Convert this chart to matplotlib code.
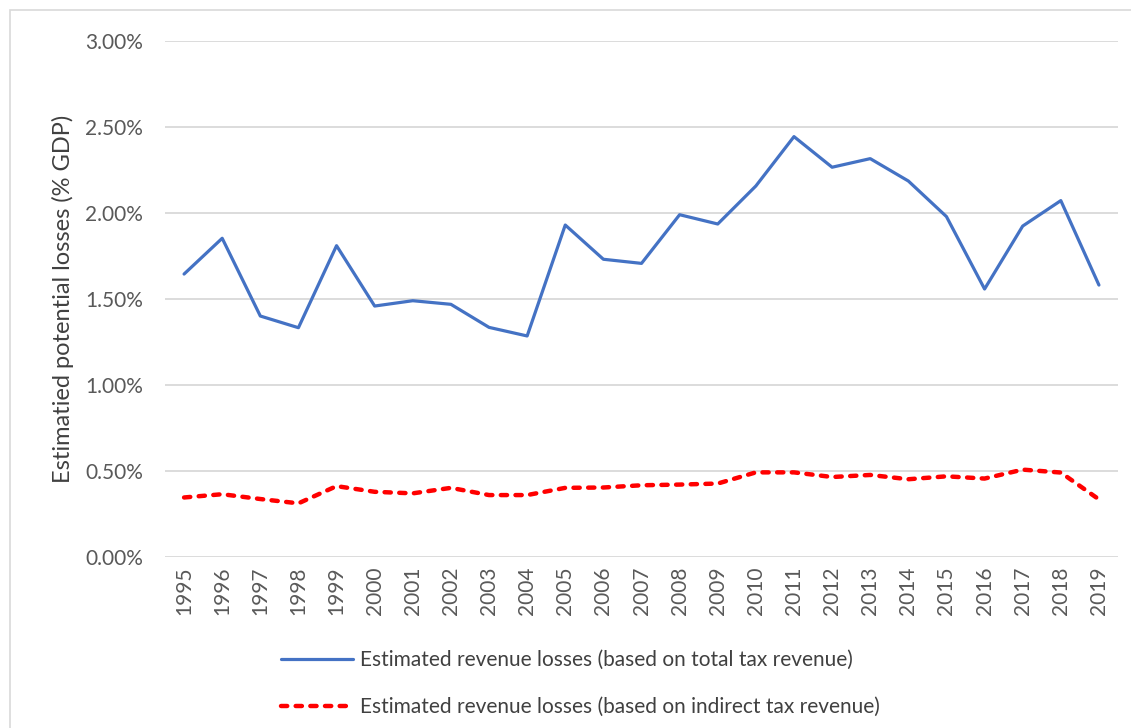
import numpy as np
import matplotlib
matplotlib.use('Agg')
import matplotlib.pyplot as plt
from matplotlib.patches import Rectangle
from matplotlib.ticker import FuncFormatter

plt.rcParams['font.family'] = ['Lato', 'DejaVu Sans']

years = [str(y) for y in range(1995, 2020)]
total_tax = [1.645, 1.853, 1.401, 1.333, 1.81, 1.459, 1.49, 1.469, 1.335, 1.285,
             1.930, 1.731, 1.707, 1.990, 1.936, 2.157, 2.444, 2.266, 2.316, 2.186,
             1.979, 1.558, 1.924, 2.072, 1.581]
indirect_tax = [0.346, 0.365, 0.337, 0.312, 0.412, 0.379, 0.370, 0.402, 0.360, 0.360,
                0.402, 0.404, 0.417, 0.421, 0.427, 0.492, 0.492, 0.465, 0.477, 0.452,
                0.469, 0.456, 0.508, 0.491, 0.335]

fig = plt.figure(figsize=(11.31, 7.28), dpi=100)
ax = fig.add_axes([0.1459, 0.2349, 0.8426, 0.7088])

x = np.arange(len(years))
ax.plot(x, total_tax, color='#4472C4', lw=2.3, solid_capstyle='round',
        label='Estimated revenue losses (based on total tax revenue)')
ax.plot(x, indirect_tax, color='#FF0000', lw=3.2, linestyle=(0, (1.4, 1.9)),
        dash_capstyle='round',
        label='Estimated revenue losses (based on indirect tax revenue)')

ax.set_xlim(-0.5, len(years) - 0.5)
ax.set_ylim(0, 3.0)
ax.set_yticks(np.arange(0, 3.01, 0.5))
ax.yaxis.set_major_formatter(FuncFormatter(lambda v, p: '%.2f%%' % v))
ax.set_xticks(x)
ax.set_xticklabels(years, rotation=90)
ax.grid(axis='y', color='#D9D9D9', lw=1.3)
ax.set_axisbelow(True)
for s in ax.spines.values():
    s.set_visible(False)
ax.tick_params(axis='both', length=0, colors='#595959', labelsize=15)
ax.tick_params(axis='y', pad=16)
ax.tick_params(axis='x', pad=7)
ax.set_ylabel('Estimatied potential losses (% GDP)', fontsize=17, color='#404040',
              labelpad=8)

leg = fig.legend(loc='upper center', bbox_to_anchor=(0.513, 0.133), ncol=1,
                 frameon=False, fontsize=15, handlelength=3.45,
                 labelspacing=1.3, handletextpad=0.35)
for t in leg.get_texts():
    t.set_color('#404040')

fig.patches.append(Rectangle((10 / 1131, -0.1), 1.2, 1 - 10 / 728 + 0.1,
                             transform=fig.transFigure, fill=False,
                             edgecolor='#D9D9D9', lw=1.2))

fig.savefig('out.png', dpi=100)
